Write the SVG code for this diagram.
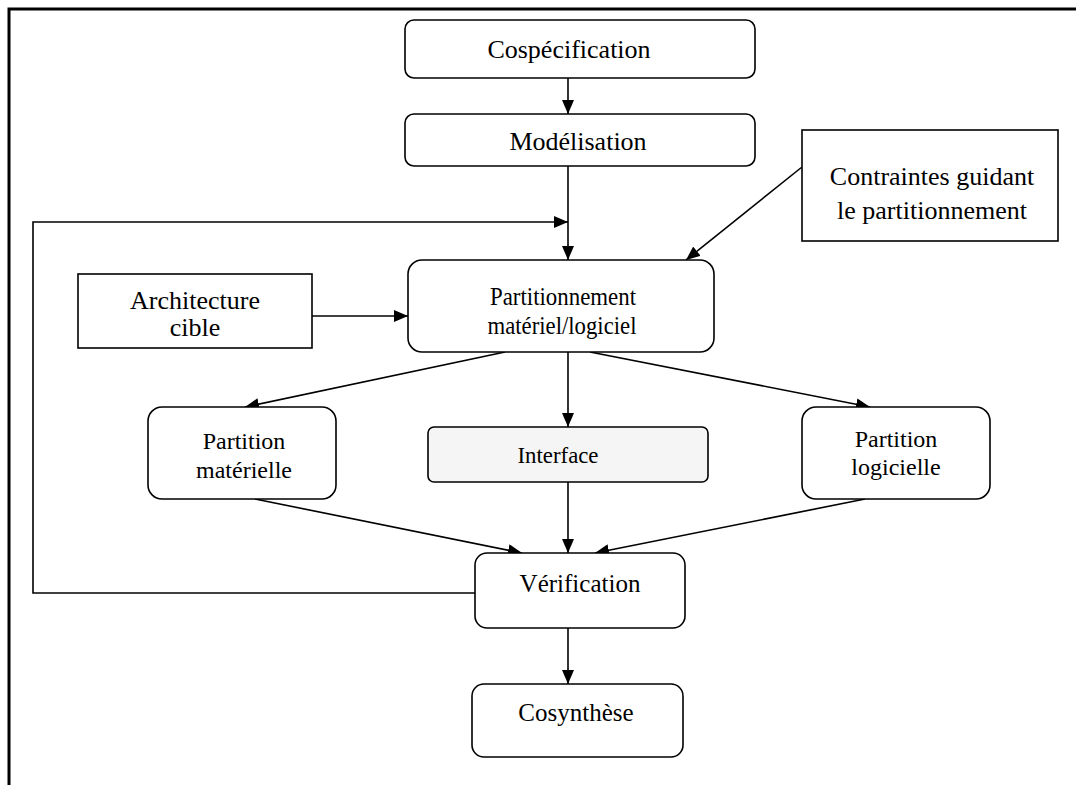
<svg xmlns="http://www.w3.org/2000/svg" width="1076" height="785" viewBox="0 0 1076 785">
  <style>
    .box { fill: #ffffff; stroke: #000000; stroke-width: 1.6; }
    .soft { fill: #f5f5f5; }
    .lbl { font-family: "Liberation Serif", "Times New Roman", serif; font-size: 22px; fill: #000000; text-anchor: middle; }
    .big { font-size: 26px; }
    .mid { font-size: 24px; }
    .edge { fill: none; stroke: #000000; stroke-width: 1.6; }
    .arr { marker-end: url(#head); }
  </style>
  <defs>
    <marker id="head" viewBox="0 0 14 12" refX="14" refY="6" markerWidth="14" markerHeight="12" markerUnits="userSpaceOnUse" orient="auto">
      <path d="M0,0 L14,6 L0,12 Z" fill="#000000"/>
    </marker>
  </defs>

  <rect width="1076" height="785" fill="#ffffff"/>
  <!-- page frame -->
  <path d="M9,785 V9 H1076" fill="none" stroke="#000000" stroke-width="3"/>

  <g id="connectors">
    <line class="edge arr" x1="568" y1="78" x2="568" y2="114"/>
    <line class="edge arr" x1="568" y1="166" x2="568" y2="260"/>
    <polyline class="edge arr" points="475,593 33,593 33,222 568,222"/>
    <line class="edge arr" x1="802" y1="167" x2="686" y2="260"/>
    <line class="edge arr" x1="312" y1="316" x2="408" y2="316"/>
    <line class="edge arr" x1="505" y1="352" x2="245" y2="407"/>
    <line class="edge arr" x1="568" y1="352" x2="568" y2="427"/>
    <line class="edge arr" x1="590" y1="352" x2="870" y2="407"/>
    <line class="edge arr" x1="255" y1="499" x2="522" y2="553"/>
    <line class="edge arr" x1="568" y1="482" x2="568" y2="553"/>
    <line class="edge arr" x1="865" y1="499" x2="595" y2="553"/>
    <line class="edge arr" x1="568" y1="628" x2="568" y2="684"/>
  </g>

  <g id="cospecification">
    <rect class="box" x="405" y="20" width="350" height="58" rx="9"/>
    <text class="lbl big" x="569" y="58">Cospécification</text>
  </g>

  <g id="modelisation">
    <rect class="box" x="405" y="114" width="350" height="52" rx="9"/>
    <text class="lbl big" x="578" y="150">Modélisation</text>
  </g>

  <g id="contraintes">
    <rect class="box" x="802" y="130" width="256" height="111"/>
    <text class="lbl big" x="932" y="185">Contraintes guidant</text>
    <text class="lbl big" x="932" y="219">le partitionnement</text>
  </g>

  <g id="architecture">
    <rect class="box" x="78" y="274" width="234" height="74"/>
    <text class="lbl big" x="195" y="309">Architecture</text>
    <text class="lbl big" x="195" y="336">cible</text>
  </g>

  <g id="partitionnement">
    <rect class="box" x="408" y="260" width="306" height="92" rx="14"/>
    <text class="lbl" x="563" y="305" style="font-size:25px" textLength="146" lengthAdjust="spacingAndGlyphs">Partitionnement</text>
    <text class="lbl" x="562" y="334" style="font-size:25px" textLength="149" lengthAdjust="spacingAndGlyphs">matériel/logiciel</text>
  </g>

  <g id="partition-materielle">
    <rect class="box" x="148" y="407" width="188" height="92" rx="14"/>
    <text class="lbl mid" x="244" y="449">Partition</text>
    <text class="lbl mid" x="244" y="478">matérielle</text>
  </g>

  <g id="interface">
    <rect class="box soft" x="428" y="427" width="280" height="55" rx="6"/>
    <text class="lbl" x="558" y="463" style="font-size:24px" textLength="81" lengthAdjust="spacingAndGlyphs">Interface</text>
  </g>

  <g id="partition-logicielle">
    <rect class="box" x="802" y="407" width="188" height="92" rx="14"/>
    <text class="lbl mid" x="896" y="447">Partition</text>
    <text class="lbl mid" x="896" y="475">logicielle</text>
  </g>

  <g id="verification">
    <rect class="box" x="475" y="553" width="210" height="75" rx="12"/>
    <text class="lbl" x="580" y="592" style="font-size:25px">Vérification</text>
  </g>

  <g id="cosynthese">
    <rect class="box" x="472" y="684" width="211" height="73" rx="12"/>
    <text class="lbl" x="576" y="721" style="font-size:25px">Cosynthèse</text>
  </g>
</svg>
